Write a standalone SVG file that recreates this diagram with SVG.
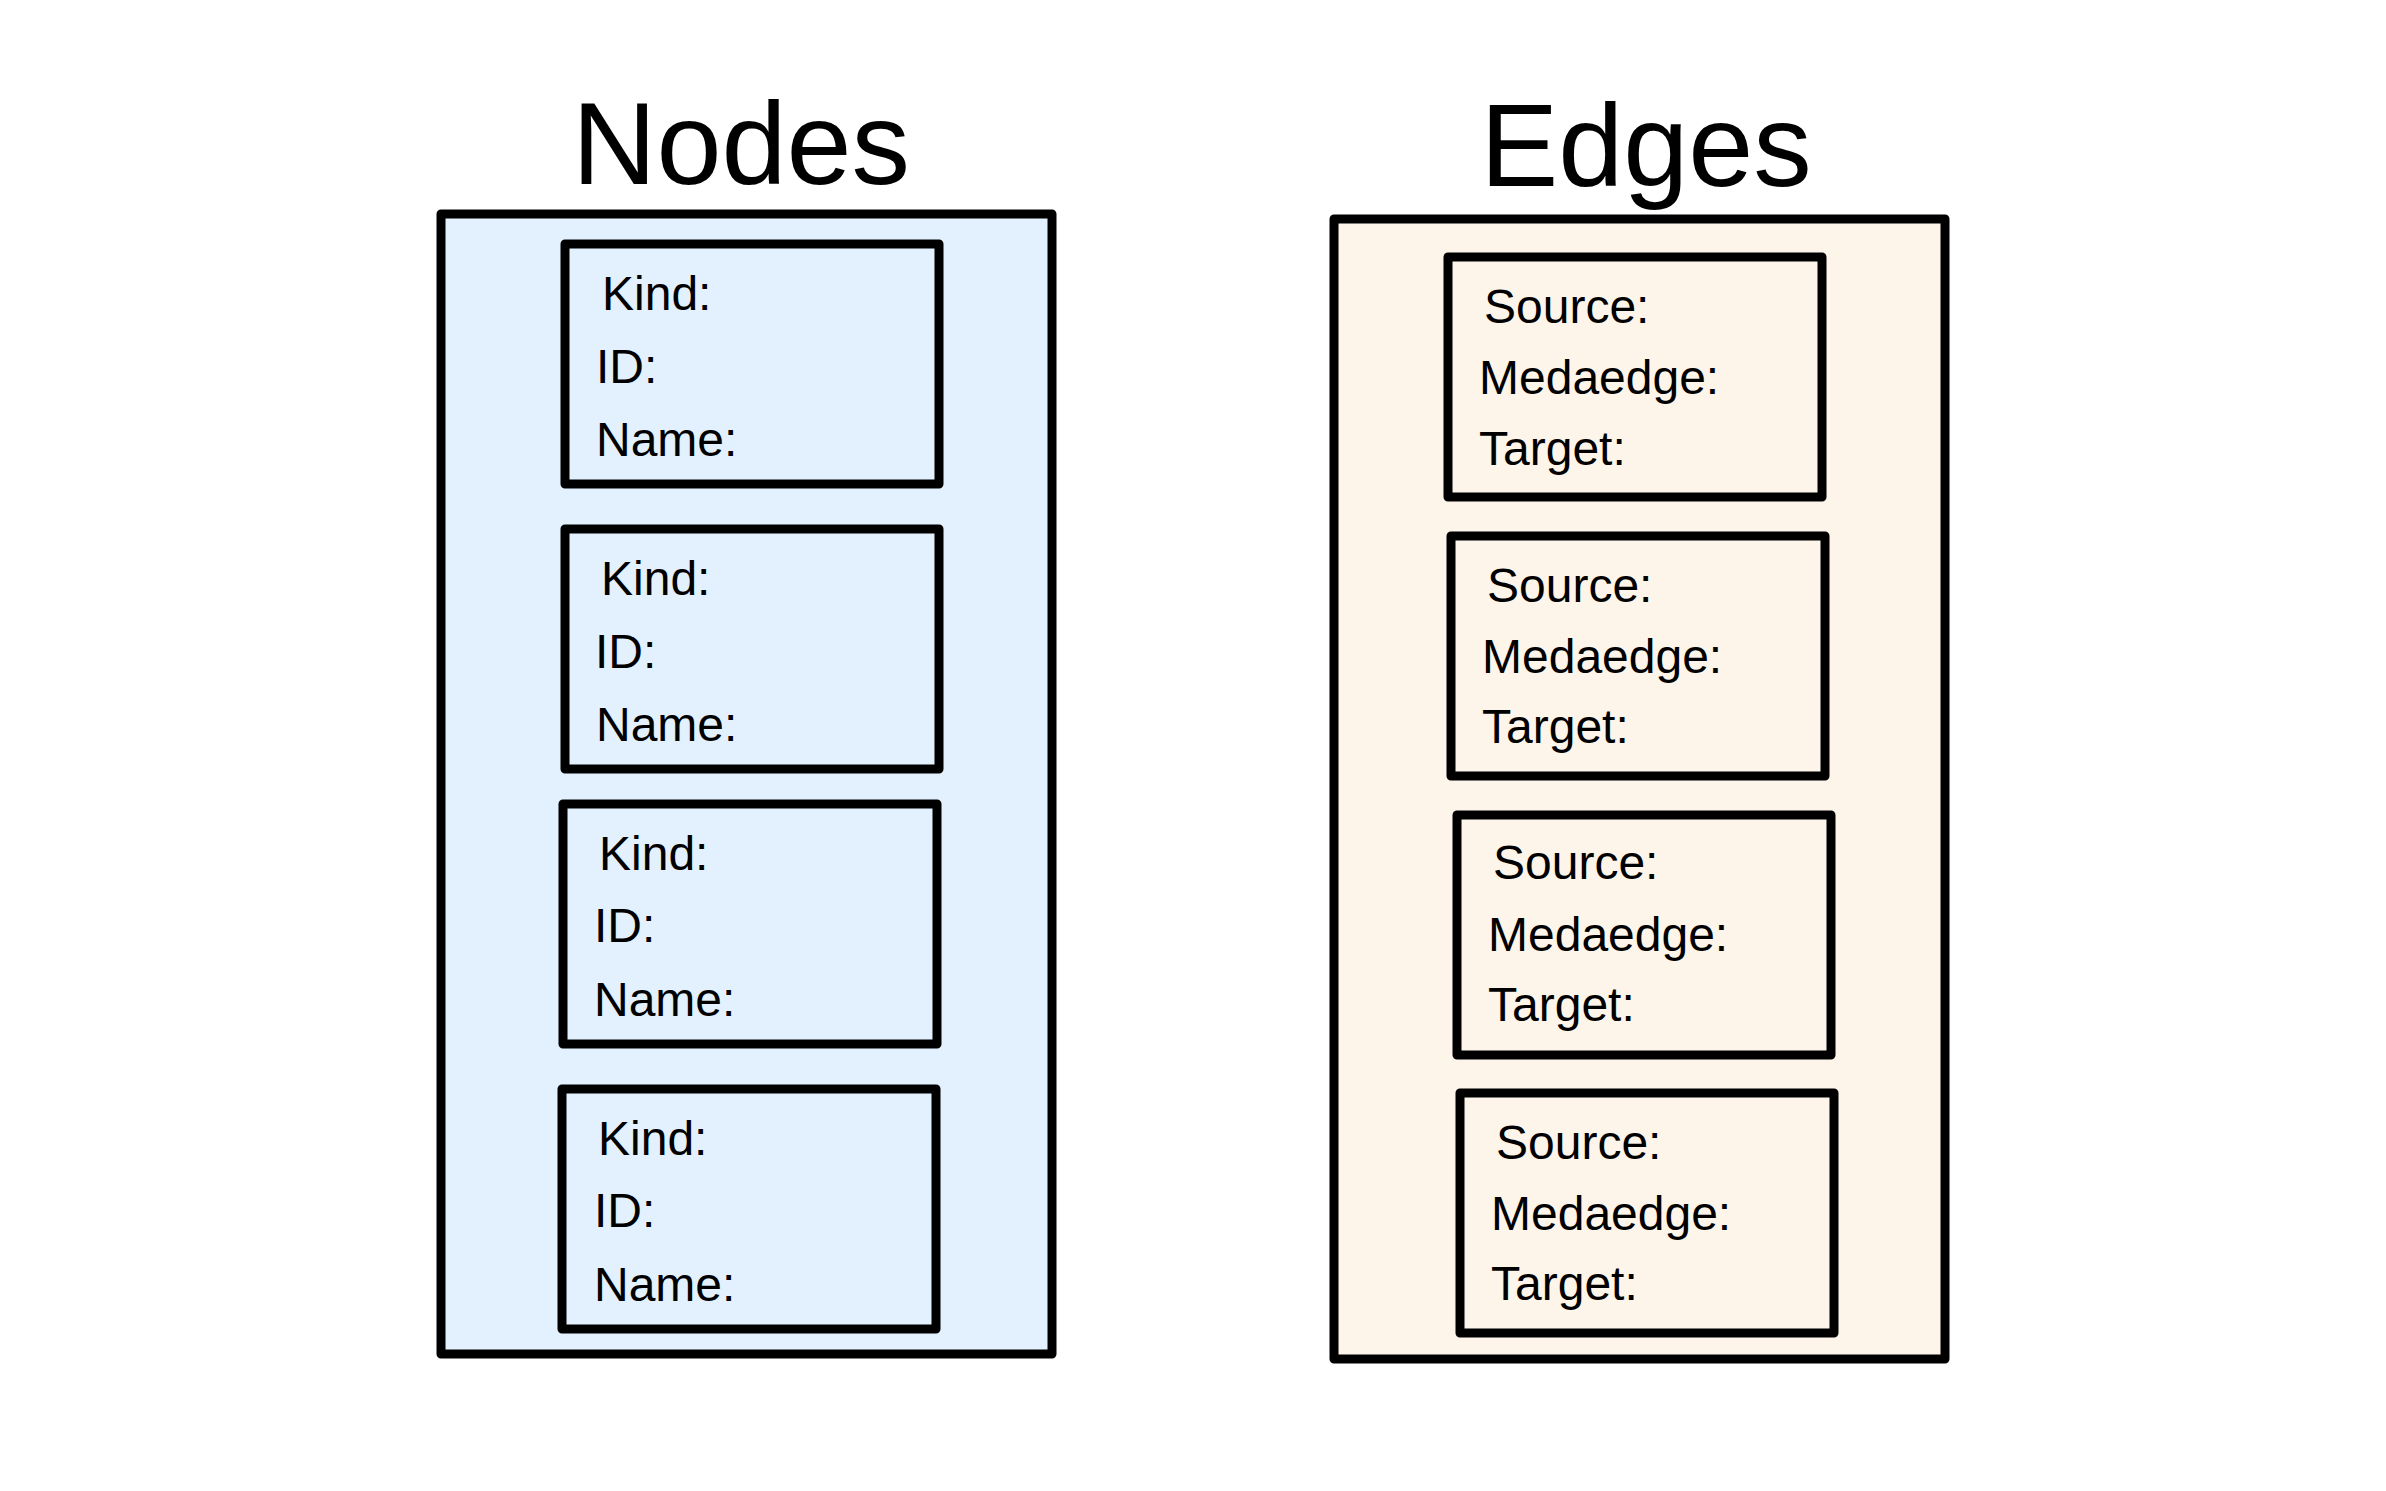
<svg xmlns="http://www.w3.org/2000/svg" width="2386" height="1491" viewBox="0 0 2386 1491">
<style>
.frame{stroke:#000;stroke-width:9;stroke-linejoin:round}
.blue{fill:#E3F0FD}
.peach{fill:#FDF4EA}
.box{stroke:#000;stroke-width:9;stroke-linejoin:round}
.title{font-family:"Liberation Sans",Arial,sans-serif;font-size:117px;fill:#000;text-anchor:middle}
.lbl{font-family:"Liberation Sans",Arial,sans-serif;font-size:48px;fill:#000}
</style>
<rect width="2386" height="1491" fill="#fff"/>
<g id="nodes-panel">
<text class="title" x="741" y="184">Nodes</text>
<rect class="frame blue" x="441" y="214" width="611" height="1140"/>
</g>
<g id="edges-panel">
<text class="title" x="1646" y="186">Edges</text>
<rect class="frame peach" x="1334" y="219" width="611" height="1140"/>
</g>
<g id="node1">
<rect class="box blue" x="565" y="244" width="374" height="240"/>
<text class="lbl" x="602" y="310">Kind:</text>
<text class="lbl" x="596" y="383">ID:</text>
<text class="lbl" x="596" y="456">Name:</text>
</g>
<g id="node2">
<rect class="box blue" x="565" y="529" width="374" height="240"/>
<text class="lbl" x="601" y="595">Kind:</text>
<text class="lbl" x="595" y="668">ID:</text>
<text class="lbl" x="596" y="741">Name:</text>
</g>
<g id="node3">
<rect class="box blue" x="563" y="804" width="374" height="240"/>
<text class="lbl" x="599" y="870">Kind:</text>
<text class="lbl" x="594" y="942">ID:</text>
<text class="lbl" x="594" y="1016">Name:</text>
</g>
<g id="node4">
<rect class="box blue" x="562" y="1089" width="374" height="240"/>
<text class="lbl" x="598" y="1155">Kind:</text>
<text class="lbl" x="594" y="1227">ID:</text>
<text class="lbl" x="594" y="1301">Name:</text>
</g>
<g id="edge1">
<rect class="box peach" x="1448" y="257" width="374" height="240"/>
<text class="lbl" x="1484" y="323">Source:</text>
<text class="lbl" x="1479" y="394">Medaedge:</text>
<text class="lbl" x="1479" y="465">Target:</text>
</g>
<g id="edge2">
<rect class="box peach" x="1451" y="536" width="374" height="240"/>
<text class="lbl" x="1487" y="602">Source:</text>
<text class="lbl" x="1482" y="673">Medaedge:</text>
<text class="lbl" x="1482" y="743">Target:</text>
</g>
<g id="edge3">
<rect class="box peach" x="1457" y="815" width="374" height="240"/>
<text class="lbl" x="1493" y="879">Source:</text>
<text class="lbl" x="1488" y="951">Medaedge:</text>
<text class="lbl" x="1488" y="1021">Target:</text>
</g>
<g id="edge4">
<rect class="box peach" x="1460" y="1093" width="374" height="240"/>
<text class="lbl" x="1496" y="1159">Source:</text>
<text class="lbl" x="1491" y="1230">Medaedge:</text>
<text class="lbl" x="1491" y="1300">Target:</text>
</g>
<g id="connectors"/>
</svg>
